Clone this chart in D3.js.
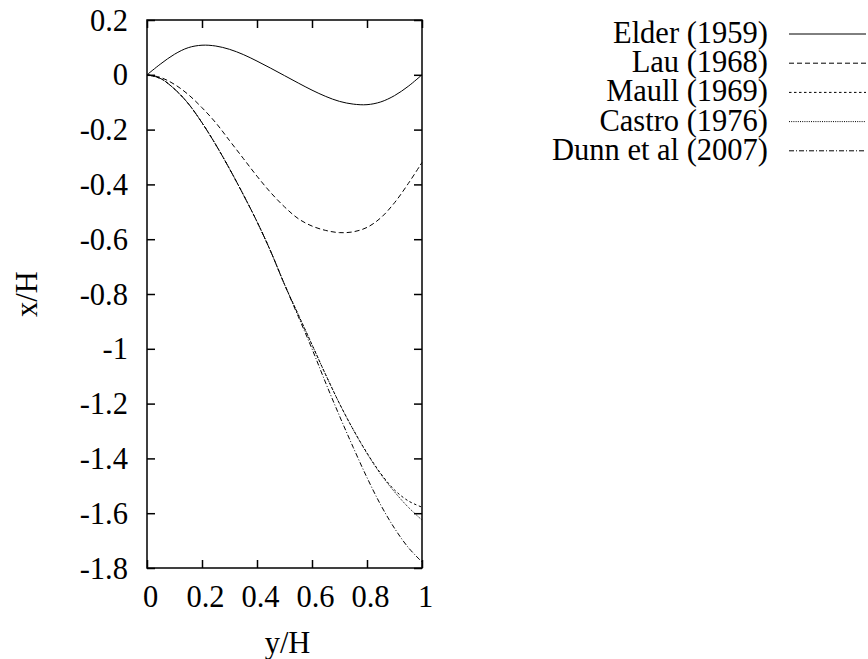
<!DOCTYPE html>
<html><head><meta charset="utf-8">
<script src="https://cdn.jsdelivr.net/npm/d3@7"></script>
<style>body{margin:0;background:#fff}svg{display:block}text{font-family:"Liberation Serif","Times New Roman",serif;fill:#000}</style>
</head><body><svg id="c" width="868" height="659"></svg>
<script>
const yH = [0,0.05,0.1,0.15,0.2,0.25,0.3,0.35,0.4,0.45,0.5,0.55,0.6,0.65,0.7,0.75,0.8,0.85,0.9,0.95,1];
const elder  = [0,0.04,0.075,0.099,0.108,0.105,0.093,0.074,0.05,0.024,-0.003,-0.03,-0.056,-0.079,-0.097,-0.107,-0.109,-0.099,-0.076,-0.042,0];
const lau    = [0,-0.01,-0.035,-0.072,-0.12,-0.175,-0.24,-0.305,-0.37,-0.43,-0.482,-0.525,-0.552,-0.568,-0.576,-0.573,-0.557,-0.522,-0.467,-0.397,-0.32];
const maull  = [0,-0.014,-0.052,-0.105,-0.175,-0.255,-0.343,-0.437,-0.536,-0.645,-0.765,-0.875,-0.985,-1.095,-1.2,-1.295,-1.38,-1.455,-1.515,-1.555,-1.578];
const castro = [0,-0.014,-0.052,-0.105,-0.175,-0.255,-0.343,-0.437,-0.536,-0.645,-0.765,-0.875,-0.985,-1.095,-1.2,-1.295,-1.382,-1.458,-1.522,-1.578,-1.625];
const dunn   = [0,-0.014,-0.052,-0.105,-0.175,-0.255,-0.343,-0.437,-0.536,-0.645,-0.765,-0.882,-1.0,-1.125,-1.245,-1.36,-1.47,-1.57,-1.655,-1.725,-1.778];
const seriesNames = ["Elder (1959)","Lau (1968)","Maull (1969)","Castro (1976)","Dunn et al (2007)"];
const seriesData = [elder,lau,maull,castro,dunn];
const dashes = [null,"5,3","2.5,2.5","1,1.2","5,2,1,2"];
const xTicks = [0,0.2,0.4,0.6,0.8,1];
const yTicks = [0.2,0,-0.2,-0.4,-0.6,-0.8,-1,-1.2,-1.4,-1.6,-1.8];

const svg = d3.select("#c");
const L=147,R=422,T=20,B=568;
const x = d3.scaleLinear().domain([0,1]).range([L,R]);
const y = d3.scaleLinear().domain([-1.8,0.2]).range([B,T]);
const fs = 30.5;
const ff = "'Liberation Serif','Times New Roman',serif";

const line = d3.line().x((d,i)=>x(yH[i])).y(d=>y(d)).curve(d3.curveCatmullRom.alpha(0.5));
const g = svg.append("g");
seriesData.forEach((s,k)=>{
  g.append("path").attr("d",line(s)).attr("fill","none").attr("stroke","#000")
   .attr("stroke-width",1).attr("stroke-dasharray",dashes[k]);
});

const fmt = d=>String(+d.toFixed(1));
const axB = d3.axisBottom(x).tickValues(xTicks).tickSize(-8).tickFormat(fmt);
const axT = d3.axisTop(x).tickValues(xTicks).tickSize(-8).tickFormat("");
const axL = d3.axisLeft(y).tickValues(yTicks).tickSize(-8).tickPadding(19).tickFormat(fmt);
const axR = d3.axisRight(y).tickValues(yTicks).tickSize(-8).tickFormat("");
function style(sel){
  sel.attr("font-family",null).attr("font-size",null);
  sel.select(".domain").remove();
  sel.selectAll(".tick line").attr("stroke","#000").attr("stroke-width",1.5);
  sel.selectAll(".tick text").style("font-family",ff).style("font-size",fs+"px").attr("fill","#000");
}
svg.append("g").attr("transform",`translate(0,${B})`).call(axB).call(style)
  .selectAll(".tick text").attr("dy",null).attr("y",39).attr("x",3);
svg.append("g").attr("transform",`translate(0,${T})`).call(axT).call(style);
svg.append("g").attr("transform",`translate(${L},0)`).call(axL).call(style)
  .selectAll(".tick text").attr("dy","0.33em");
svg.append("g").attr("transform",`translate(${R},0)`).call(axR).call(style);
svg.append("rect").attr("x",L).attr("y",T).attr("width",R-L).attr("height",B-T)
  .attr("fill","none").attr("stroke","#000").attr("stroke-width",1.5);

svg.append("text").attr("x",(L+R)/2+3).attr("y",653).attr("text-anchor","middle")
  .style("font-family",ff).style("font-size",fs+"px").text("y/H");
svg.append("text").attr("transform",`translate(37,${(T+B)/2}) rotate(-90)`).attr("text-anchor","middle")
  .style("font-family",ff).style("font-size",fs+"px").text("x/H");

const lg = svg.append("g");
seriesNames.forEach((n,k)=>{
  const ly = 34 + k*29.2;
  lg.append("text").attr("x",768).attr("y",ly+9).attr("text-anchor","end")
    .style("font-family",ff).style("font-size",fs+"px").text(n);
  lg.append("line").attr("x1",789).attr("x2",866).attr("y1",ly).attr("y2",ly)
    .attr("stroke","#000").attr("stroke-width",1).attr("stroke-dasharray",dashes[k]);
});
</script></body></html>
